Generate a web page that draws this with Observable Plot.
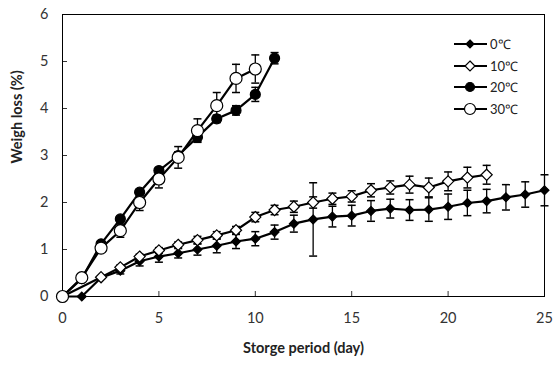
<!DOCTYPE html>
<html><head><meta charset="utf-8">
<script src="https://cdn.jsdelivr.net/npm/d3@7"></script>
<script src="https://cdn.jsdelivr.net/npm/@observablehq/plot@0.6"></script>
<style>
body{margin:0;background:#fff;}
#wrap{position:relative;width:554px;height:366px;font-family:Lato, "Open Sans", sans-serif;}
#legend{position:absolute;left:453px;top:33px;font-size:13px;color:#222;}
#legend .row{display:flex;align-items:center;height:21.7px;}
#legend svg{display:block;margin-right:1px;}
</style>
</head><body><div id="wrap"><div id="chart"></div><div id="legend"></div></div>
<script>
// ---- data ----
const seriesNames = ["0℃", "10℃", "20℃", "30℃"];
const days0 = d3.range(0, 26);
const loss0 = [0,0,0.40,0.55,0.75,0.85,0.92,1.00,1.08,1.17,1.23,1.37,1.55,1.64,1.70,1.72,1.82,1.87,1.84,1.85,1.91,1.99,2.03,2.11,2.17,2.26];
const err0  = [0,0,0.03,0.07,0.10,0.12,0.10,0.12,0.15,0.15,0.15,0.15,0.18,0.78,0.22,0.22,0.22,0.20,0.22,0.25,0.27,0.27,0.25,0.27,0.27,0.33];
const days10 = [0,2,3,4,5,6,7,8,9,10,11,12,13,14,15,16,17,18,19,20,21,22];
const loss10 = [0,0.41,0.62,0.85,0.98,1.10,1.20,1.30,1.41,1.69,1.84,1.91,2.00,2.08,2.13,2.26,2.32,2.38,2.32,2.45,2.53,2.59];
const err10  = [0,0.03,0.05,0.05,0.06,0.06,0.08,0.08,0.08,0.10,0.10,0.12,0.12,0.12,0.12,0.14,0.14,0.18,0.20,0.20,0.22,0.20];
const days20 = d3.range(0, 12);
const loss20 = [0,0.38,1.12,1.65,2.22,2.68,3.00,3.39,3.78,3.96,4.30,5.07];
const err20  = [0,0.03,0.05,0.05,0.05,0.06,0.08,0.10,0.08,0.10,0.15,0.12];
const days30 = d3.range(0, 11);
const loss30 = [0,0.40,1.03,1.40,2.00,2.50,2.96,3.53,4.06,4.64,4.84];
const err30  = [0,0.03,0.05,0.14,0.17,0.19,0.23,0.25,0.28,0.30,0.30];
const xTicks = [0,5,10,15,20,25];
const yTicks = [0,1,2,3,4,5,6];

const styles = [
  {symbol:"diamond2", fill:"#000", r:4},
  {symbol:"diamond2", fill:"#fff", r:5},
  {symbol:"circle", fill:"#000", r:5},
  {symbol:"circle", fill:"#fff", r:6}
];
const rows = (days, loss, err, k) => days.map((d, i) => ({day:d, loss:loss[i], lo:loss[i]-err[i], hi:loss[i]+err[i], s:seriesNames[k]}));
const sets = [rows(days0,loss0,err0,0), rows(days10,loss10,err10,1), rows(days20,loss20,err20,2), rows(days30,loss30,err30,3)];

const capSym = {draw(ctx, size){ const w = Math.sqrt(size/Math.PI); ctx.moveTo(-w,0); ctx.lineTo(w,0); }};

const seriesMarks = sets.flatMap((data, k) => [
  Plot.ruleX(data.filter(d => d.hi > d.lo), {x:"day", y1:"lo", y2:"hi", stroke:"#000", strokeWidth:1.3}),
  Plot.dot(data.filter(d => d.hi > d.lo), {x:"day", y:"hi", symbol:capSym, r:4, stroke:"#000", strokeWidth:1.5}),
  Plot.dot(data.filter(d => d.hi > d.lo), {x:"day", y:"lo", symbol:capSym, r:4, stroke:"#000", strokeWidth:1.5}),
  Plot.line(data, {x:"day", y:"loss", stroke:"#000", strokeWidth:2.2}),
  Plot.dot(data, {x:"day", y:"loss", symbol:styles[k].symbol, r:styles[k].r, fill:styles[k].fill, stroke:"#000", strokeWidth:1.2})
]);

const chart = Plot.plot({
  width:554, height:366,
  marginLeft:62, marginRight:10, marginTop:14, marginBottom:70,
  style:{fontFamily:"Lato, 'Open Sans', sans-serif", color:"#333", background:"#fff"},
  x:{domain:[0,25]},
  y:{domain:[0,6]},
  marks:[
    Plot.axisX({ticks:xTicks, tickSize:0, tickPadding:16, fontSize:14.5, tickFormat:d => String(d), label:null}),
    Plot.axisX({ticks:[5,10,15,20], tickSize:-5, tickFormat:() => "", label:null}),
    Plot.axisY({ticks:yTicks, tickSize:0, tickPadding:14, fontSize:14.5, tickFormat:d => String(d), label:null}),
    Plot.axisY({ticks:[1,2,3,4,5], tickSize:-5, tickFormat:() => "", label:null}),
    Plot.frame({stroke:"#000", strokeWidth:1}),
    Plot.text(["Weigh loss (%)"], {frameAnchor:"left", dx:-45, dy:8, rotate:-90, fontWeight:"bold", fontSize:14.5, fill:"#222"}),
    Plot.text(["Storge period (day)"], {frameAnchor:"bottom", dy:56, fontWeight:"bold", fontSize:14.5, fill:"#222"}),
    ...seriesMarks
  ]
});
document.getElementById("chart").appendChild(chart);

// legend
const leg = document.getElementById("legend");
seriesNames.forEach((name, k) => {
  const st = styles[k];
  const row = document.createElement("div");
  row.className = "row";
  const sym = st.symbol === "circle"
    ? `<circle cx="17" cy="10" r="${st.r-0.5}" fill="${st.fill}" stroke="#000" stroke-width="1.2"/>`
    : `<path d="${d3.symbol(d3.symbolDiamond2, Math.PI*st.r*st.r*0.8)()}" transform="translate(17,10)" fill="${st.fill}" stroke="#000" stroke-width="1.2"/>`;
  row.innerHTML = `<svg width="36" height="20"><line x1="1" x2="34" y1="10" y2="10" stroke="#000" stroke-width="2.2"/>${sym}</svg><span>${name}</span>`;
  leg.appendChild(row);
});
</script>
</body></html>
